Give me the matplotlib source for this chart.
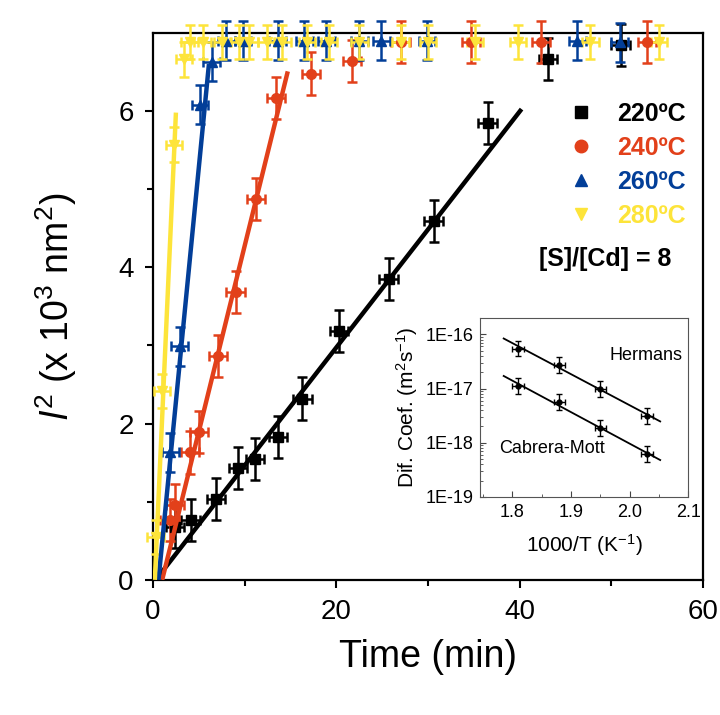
import numpy as np
import matplotlib
matplotlib.use("Agg")
import matplotlib.pyplot as plt
from matplotlib.lines import Line2D
from matplotlib.ticker import FixedLocator, LogLocator, NullFormatter, FuncFormatter

plt.rcParams["font.family"] = ["Liberation Sans", "DejaVu Sans"]
plt.rcParams["mathtext.fontset"] = "custom"
plt.rcParams["mathtext.rm"] = "Liberation Sans"
plt.rcParams["mathtext.it"] = "Liberation Sans:italic"

# fmt: off
BLACK  = "#000000"
RED    = "#e2401a"
BLUE   = "#023e98"
YELLOW = "#fde43a"
# fmt: on

# 220 C
t_220  = [2.4, 4.1, 6.9, 9.3, 11.1, 13.6, 16.3, 20.3, 25.7, 30.6, 36.5, 43.1, 51.0]
l2_220 = [0.68, 0.77, 1.04, 1.43, 1.55, 1.83, 2.32, 3.19, 3.85, 4.59, 5.85, 6.67, 6.85]
# 240 C
t_240  = [1.8, 2.4, 4.0, 5.0, 7.1, 9.0, 11.2, 13.4, 17.2, 21.7, 27.0, 34.7, 42.3, 53.9]
l2_240 = [0.77, 0.96, 1.63, 1.89, 2.87, 3.68, 4.87, 6.17, 6.48, 6.64, 6.88, 6.88, 6.88, 6.88]
# 260 C
t_260  = [1.9, 2.9, 5.1, 6.4, 8.0, 9.8, 13.6, 16.5, 18.9, 22.5, 24.9, 29.9, 46.3, 50.9]
l2_260 = [1.63, 2.99, 6.08, 6.63, 6.9, 6.9, 6.9, 6.9, 6.9, 6.9, 6.9, 6.9, 6.9, 6.88]
# 280 C
t_280  = [0.3, 1.0, 2.3, 3.4, 4.0, 5.4, 7.5, 9.4, 10.5, 12.4, 14.1, 16.8, 19.2, 22.5, 27.0, 30.0, 35.1, 39.8, 47.7, 55.2]
l2_280 = [0.55, 2.42, 5.57, 6.66, 6.88, 6.88, 6.88, 6.88, 6.88, 6.88, 6.88, 6.88, 6.88, 6.88, 6.88, 6.88, 6.88, 6.88, 6.88, 6.88]

series_labels  = ["220ºC", "240ºC", "260ºC", "280ºC"]
series_colors  = [BLACK, RED, BLUE, YELLOW]
series_markers = ["s", "o", "^", "v"]
series_t  = [t_220, t_240, t_260, t_280]
series_l2 = [l2_220, l2_240, l2_260, l2_280]
series_xerr = [1.0, 1.0, 0.9, 0.9]
series_yerr = [0.27, 0.27, 0.25, 0.22]

# linear growth fits: start time, end time, slope (10^3 nm^2 / min)
fit_start = [0.3, 1.0, 0.6, 0.2]
fit_end   = [40.2, 14.7, 6.1, 2.5]
fit_slope = [0.151, 0.475, 1.2, 2.6]

# inset: diffusion coefficients vs 1000/T
inv_T      = [1.81, 1.88, 1.95, 2.03]
D_hermans  = [5.5e-17, 2.7e-17, 1.0e-17, 3.1e-18]
D_cabrera  = [1.1e-17, 5.6e-18, 1.9e-18, 6.1e-19]

fig = plt.figure(figsize=(7.2, 7.15), dpi=100)
fig.patch.set_facecolor("white")
ax = fig.add_axes([0.2125, 0.189, 0.764, 0.765])

for t, l2, c, m, xe, ye in zip(series_t, series_l2, series_colors, series_markers,
                               series_xerr, series_yerr):
    ax.errorbar(t, l2, xerr=xe, yerr=ye, fmt=m, color=c, ms=7, elinewidth=1.8,
                capsize=3.5, capthick=1.8, zorder=3, clip_on=False)

for t0, t1, k, c in zip(fit_start, fit_end, fit_slope, series_colors):
    tt = np.array([t0, t1])
    ax.plot(tt, k * (tt - t0), color=c, lw=3.2, zorder=4, solid_capstyle="butt")

ax.set_xlim(0, 60)
ax.set_ylim(0, 7)
ax.set_xticks([0, 20, 40, 60])
ax.set_xticks([10, 30, 50], minor=True)
ax.set_yticks([0, 2, 4, 6])
ax.set_yticks([1, 3, 5], minor=True)
ax.tick_params(which="both", direction="out", top=False, right=False, width=1.5)
ax.tick_params(which="major", length=6, labelsize=20, pad=8)
ax.tick_params(which="minor", length=4)
for s in ax.spines.values():
    s.set_linewidth(1.6)
ax.set_xlabel("Time (min)", fontsize=27, labelpad=10)
ax.set_ylabel(r"$\mathit{l}^2$ (x 10$^3$ nm$^2$)", fontsize=27, labelpad=28)

handles = [Line2D([], [], ls="none", marker=m, color=c, ms=9)
           for m, c in zip(series_markers, series_colors)]
leg = ax.legend(handles, series_labels, loc="upper left", bbox_to_anchor=(0.79, 0.858),
                bbox_transform=fig.transFigure, frameon=False, handlelength=1.0,
                handletextpad=0.95, labelspacing=0.4, borderpad=0, borderaxespad=0,
                prop={"weight": "bold", "size": 18}, labelcolor=series_colors)
fig.text(0.840, 0.638, "[S]/[Cd] = 8", fontsize=18, fontweight="bold", ha="center", va="center")

# Inset — Arrhenius plot
ins = fig.add_axes([0.667, 0.305, 0.289, 0.25])
for D in (D_hermans, D_cabrera):
    D = np.array(D)
    ins.errorbar(inv_T, D, xerr=0.01, yerr=[D - D / 1.4, D * 1.4 - D], fmt="o",
                 color="black", ms=3.5, elinewidth=1, capsize=2, capthick=1)
    k, b = np.polyfit(inv_T, np.log10(D), 1)
    xx = np.array([1.785, 2.052])
    ins.plot(xx, 10 ** (k * xx + b), color="black", lw=1.3)
ins.set_yscale("log")
ins.set_xlim(1.745, 2.1)
ins.set_ylim(1e-19, 2e-16)
ins.xaxis.set_major_locator(FixedLocator([1.8, 1.9, 2.0, 2.1]))
ins.xaxis.set_minor_locator(FixedLocator([1.75, 1.85, 1.95, 2.05]))
ins.yaxis.set_major_locator(FixedLocator([1e-19, 1e-18, 1e-17, 1e-16]))
ins.yaxis.set_major_formatter(FuncFormatter(lambda v, _: f"1E{int(round(np.log10(v)))}"))
ins.yaxis.set_minor_locator(LogLocator(base=10, subs=np.arange(2, 10)))
ins.yaxis.set_minor_formatter(NullFormatter())
ins.tick_params(which="both", direction="in", top=False, right=False, color="#444444")
ins.tick_params(which="major", length=4, labelsize=13, pad=5)
ins.tick_params(which="minor", length=2)
for s in ins.spines.values():
    s.set_linewidth(0.8)
    s.set_color("#555555")
ins.set_xlabel(r"1000/T (K$^{-1}$)", fontsize=15, labelpad=8)
ins.set_ylabel(r"Dif. Coef. (m$^2$s$^{-1}$)", fontsize=15, labelpad=4)
ins.text(0.97, 0.79, "Hermans", transform=ins.transAxes, fontsize=13, ha="right", va="center")
ins.text(0.09, 0.27, "Cabrera-Mott", transform=ins.transAxes, fontsize=13, ha="left", va="center")

fig.savefig("out.png", dpi=100, facecolor="white")
plt.close(fig)
